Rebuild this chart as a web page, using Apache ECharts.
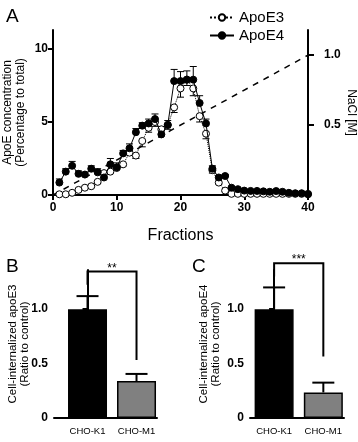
<!DOCTYPE html>
<html>
<head>
<meta charset="utf-8">
<script src="https://cdn.jsdelivr.net/npm/echarts@6/dist/echarts.min.js"></script>
<style>
  html, body { margin: 0; padding: 0; background: #fff; }
  #main { width: 358px; height: 442px; }
</style>
</head>
<body>
<div id="main"></div>
<script>
// panel A: elution profile
var fractions = [1,2,3,4,5,6,7,8,9,10,11,12,13,14,15,16,17,18,19,20,
                 21,22,23,24,25,26,27,28,29,30,31,32,33,34,35,36,37,38,39,40];
var apoE3 = [0.05,0.05,0.15,0.35,0.5,0.6,0.9,1.5,1.6,1.85,2.1,2.9,2.7,3.7,4.6,5.0,4.5,4.8,6.0,7.3,
             7.9,7.3,5.4,4.2,1.7,0.85,0.3,0.08,0.08,0.08,0.08,0.08,0.08,0.08,0.08,0.08,0.08,0.08,0.08,0.08];
var apoE3Err = [0.05,0.05,0.05,0.05,0.05,0.05,0.1,0.1,0.1,0.1,0.1,0.1,0.2,0.4,0.3,0.3,0.3,0.3,0.35,0.6,
                0.4,0.5,0.4,0.35,0.2,0.1,0.05,0.05,0.05,0.05,0.05,0.05,0.05,0.05,0.05,0.05,0.05,0.05,0.05,0.05];
var apoE4 = [0.85,1.6,2.0,1.45,1.4,1.8,1.55,1.2,2.1,1.9,2.85,3.2,4.3,4.75,4.9,5.2,4.15,4.8,7.8,7.8,
             7.9,7.9,6.3,4.9,1.8,1.2,1.3,0.5,0.4,0.3,0.28,0.28,0.25,0.22,0.27,0.22,0.15,0.12,0.12,0.05];
var apoE4Err = [0.25,0.2,0.3,0.2,0.15,0.2,0.25,0.2,0.4,0.3,0.2,0.3,0.25,0.2,0.3,0.35,0.25,0.3,0.8,0.65,
                0.6,0.9,0.5,0.3,0.2,0.1,0.1,0.05,0.05,0.05,0.05,0.05,0.05,0.05,0.05,0.05,0.05,0.05,0.05,0.05];
var naclX = [0, 40];
var naclY = [0, 1.0];

// panels B and C: internalization
var cells = ['CHO-K1', 'CHO-M1'];
var apoE3Cell = [1.0, 0.34];
var apoE3CellErr = [0.12, 0.065];
var apoE4Cell = [1.0, 0.235];
var apoE4CellErr = [0.2, 0.09];
// bracket: [left x, right x, top, left leg end, right leg end]
var bracketB = [0, 1, 1.346, 1.224, 0.534];
var bracketC = [0, 1, 1.423, 1.30, 0.564];
var starsB = '**';
var starsC = '***';

var FONT = 'Liberation Sans, Arial, sans-serif';
var barColors = ['#000000', '#808080'];

function pairs(xs, ys, es) {
    return xs.map(function(x, i) { return es ? [x, ys[i], es[i]] : [x, ys[i]]; });
}

function errA(dir) {
    return function(params, api) {
        var x = api.value(0), v = api.value(1), e = api.value(2);
        var p0 = api.coord([x, v]);
        var p1 = api.coord([x, v + dir * e]);
        var st = { stroke: '#000', lineWidth: 1 };
        return { type: 'group', children: [
            { type: 'line', shape: { x1: p0[0], y1: p0[1], x2: p1[0], y2: p1[1] }, style: st },
            { type: 'line', shape: { x1: p1[0] - 3.5, y1: p1[1], x2: p1[0] + 3.5, y2: p1[1] }, style: st }
        ]};
    };
}

function errBar(params, api) {
    var x = api.value(0), v = api.value(1), e = api.value(2);
    var p0 = api.coord([x, v]);
    var p1 = api.coord([x, v + e]);
    var st = { stroke: '#000', lineWidth: 2 };
    return { type: 'group', children: [
        { type: 'line', shape: { x1: p0[0], y1: p0[1], x2: p1[0], y2: p1[1] }, style: st },
        { type: 'line', shape: { x1: p1[0] - 11, y1: p1[1], x2: p1[0] + 11, y2: p1[1] }, style: st }
    ]};
}

function bracket(label) {
    return function(params, api) {
        var a = api.coord([api.value(0), api.value(2)]);
        var b = api.coord([api.value(1), api.value(2)]);
        var l = api.coord([api.value(0), api.value(3)]);
        var r = api.coord([api.value(1), api.value(4)]);
        return { type: 'group', children: [
            { type: 'polyline', shape: { points: [[l[0], l[1]], a, b, [r[0], r[1]]] },
              style: { stroke: '#000', lineWidth: 2, fill: null } },
            { type: 'text', x: (a[0] + b[0]) / 2, y: a[1] + 3,
              style: { text: label, fill: '#000', font: '12px ' + FONT, align: 'center', verticalAlign: 'bottom' } }
        ]};
    };
}

var axLine = { show: true, lineStyle: { color: '#000', width: 2 } };
var axTick = { show: true, inside: false, length: 5, lineStyle: { color: '#000', width: 2 } };
function boldLab(extra) {
    return Object.assign({ color: '#000', fontFamily: FONT, fontWeight: 'bold', fontSize: 12 }, extra || {});
}
function ticks(extra) {
    return Object.assign({}, axTick, extra || {});
}

var chart = echarts.init(document.getElementById('main'));
var option = {
    animation: false,
    backgroundColor: '#fff',
    title: [
        { text: 'A', left: 1, top: 2, textStyle: { fontFamily: FONT, fontWeight: 'normal', fontSize: 19, color: '#000' } },
        { text: 'B', left: 1, top: 252, textStyle: { fontFamily: FONT, fontWeight: 'normal', fontSize: 19, color: '#000' } },
        { text: 'C', left: 187, top: 252, textStyle: { fontFamily: FONT, fontWeight: 'normal', fontSize: 19, color: '#000' } }
    ],
    legend: {
        data: ['ApoE3', 'ApoE4'],
        orient: 'vertical',
        left: 204, top: 5,
        itemWidth: 24, itemHeight: 8, itemGap: 3,
        textStyle: { fontFamily: FONT, fontSize: 15, color: '#000' }
    },
    grid: [
        { left: 53, top: 30, width: 255, height: 165, outerBoundsMode: 'none' },
        { left: 54, top: 270, width: 103, height: 148, outerBoundsMode: 'none' },
        { left: 250, top: 270, width: 94, height: 148, outerBoundsMode: 'none' }
    ],
    xAxis: [
        { gridIndex: 0, type: 'value', min: 0, max: 40, interval: 10,
          name: 'Fractions', nameLocation: 'middle', nameGap: 33, nameMoveOverlap: false,
          nameTextStyle: { fontFamily: FONT, fontSize: 16, color: '#000' },
          axisLine: axLine, axisTick: axTick, axisLabel: boldLab({ margin: 7 }), splitLine: { show: false } },
        { gridIndex: 1, type: 'value', min: -0.684, max: 1.418,
          axisLine: axLine, axisTick: { show: false }, splitLine: { show: false },
          axisLabel: { customValues: [0, 1], formatter: function(v) { return cells[Math.round(v)]; },
                       color: '#000', fontFamily: FONT, fontSize: 9.5, margin: 8 } },
        { gridIndex: 2, type: 'value', min: -0.49, max: 1.42,
          axisLine: axLine, axisTick: { show: false }, splitLine: { show: false },
          axisLabel: { customValues: [0, 1], formatter: function(v) { return cells[Math.round(v)]; },
                       color: '#000', fontFamily: FONT, fontSize: 9.5, margin: 8 } }
    ],
    yAxis: [
        { gridIndex: 0, type: 'value', min: 0, max: 11.3,
          name: 'ApoE concentration\n(Percentage to total)', nameLocation: 'middle', nameGap: 26, nameRotate: 90,
          nameMoveOverlap: false,
          nameTextStyle: { fontFamily: FONT, fontSize: 12, color: '#000', lineHeight: 13 },
          axisLine: axLine, axisTick: ticks({ customValues: [0, 5, 10] }),
          axisLabel: boldLab({ customValues: [0, 5, 10], margin: 5 }), splitLine: { show: false } },
        { gridIndex: 0, type: 'value', position: 'right', min: 0, max: 1.18,
          name: 'NaCl [M]', nameLocation: 'middle', nameGap: 37, nameRotate: -90, nameMoveOverlap: false,
          nameTextStyle: { fontFamily: FONT, fontSize: 12, color: '#000' },
          axisLine: axLine, axisTick: ticks({ customValues: [0.5, 1.0], length: 6 }),
          axisLabel: boldLab({ customValues: [0.5, 1.0], margin: 16, formatter: function(v) { return v.toFixed(1); } }),
          splitLine: { show: false } },
        { gridIndex: 1, type: 'value', min: 0, max: 1.36,
          name: 'Cell-internalized apoE3\n(Ratio to control)', nameLocation: 'middle', nameGap: 23, nameRotate: 90,
          nameMoveOverlap: false,
          nameTextStyle: { fontFamily: FONT, fontSize: 11.5, color: '#000', lineHeight: 12 },
          axisLine: axLine, axisTick: ticks({ customValues: [0, 0.5, 1.0] }),
          axisLabel: boldLab({ customValues: [0, 0.5, 1.0], margin: 6, formatter: function(v) { return v === 0 ? '0' : v.toFixed(1); } }),
          splitLine: { show: false } },
        { gridIndex: 2, type: 'value', min: 0, max: 1.36,
          name: 'Cell-internalized apoE4\n(Ratio to control)', nameLocation: 'middle', nameGap: 28, nameRotate: 90,
          nameMoveOverlap: false,
          nameTextStyle: { fontFamily: FONT, fontSize: 11.5, color: '#000', lineHeight: 12 },
          axisLine: axLine, axisTick: ticks({ customValues: [0, 0.5, 1.0] }),
          axisLabel: boldLab({ customValues: [0, 0.5, 1.0], margin: 6, formatter: function(v) { return v === 0 ? '0' : v.toFixed(1); } }),
          splitLine: { show: false } }
    ],
    series: [
        { name: 'NaCl', type: 'line', xAxisIndex: 0, yAxisIndex: 1, data: pairs(naclX, naclY),
          symbol: 'none', lineStyle: { color: '#000', width: 1.5, type: [6, 6] }, z: 1 },
        { name: 'ApoE3 err', type: 'custom', xAxisIndex: 0, yAxisIndex: 0, renderItem: errA(-1),
          data: pairs(fractions, apoE3, apoE3Err), z: 2 },
        { name: 'ApoE4 err', type: 'custom', xAxisIndex: 0, yAxisIndex: 0, renderItem: errA(1),
          data: pairs(fractions, apoE4, apoE4Err), z: 2 },
        { name: 'ApoE3', type: 'line', xAxisIndex: 0, yAxisIndex: 0, data: pairs(fractions, apoE3),
          symbol: 'circle', symbolSize: 7, showAllSymbol: true,
          itemStyle: { color: '#fff', borderColor: '#000', borderWidth: 1 },
          lineStyle: { color: '#000', width: 1, type: 'dotted' }, z: 3 },
        { name: 'ApoE4', type: 'line', xAxisIndex: 0, yAxisIndex: 0, data: pairs(fractions, apoE4),
          symbol: 'circle', symbolSize: 7, showAllSymbol: true,
          itemStyle: { color: '#000', borderColor: '#000', borderWidth: 1 },
          lineStyle: { color: '#000', width: 1 }, z: 4 },

        { type: 'bar', xAxisIndex: 1, yAxisIndex: 2, barWidth: 39,
          data: apoE3Cell.map(function(v, i) {
              return { value: [i, v], itemStyle: { color: barColors[i], borderColor: '#000', borderWidth: 1.5 } };
          }) },
        { type: 'custom', xAxisIndex: 1, yAxisIndex: 2, renderItem: errBar,
          data: pairs([0, 1], apoE3Cell, apoE3CellErr), z: 3 },
        { type: 'custom', xAxisIndex: 1, yAxisIndex: 2, renderItem: bracket(starsB),
          data: [bracketB], z: 3 },

        { type: 'bar', xAxisIndex: 2, yAxisIndex: 3, barWidth: 39,
          data: apoE4Cell.map(function(v, i) {
              return { value: [i, v], itemStyle: { color: barColors[i], borderColor: '#000', borderWidth: 1.5 } };
          }) },
        { type: 'custom', xAxisIndex: 2, yAxisIndex: 3, renderItem: errBar,
          data: pairs([0, 1], apoE4Cell, apoE4CellErr), z: 3 },
        { type: 'custom', xAxisIndex: 2, yAxisIndex: 3, renderItem: bracket(starsC),
          data: [bracketC], z: 3 }
    ]
};
chart.setOption(option);
</script>
</body>
</html>
